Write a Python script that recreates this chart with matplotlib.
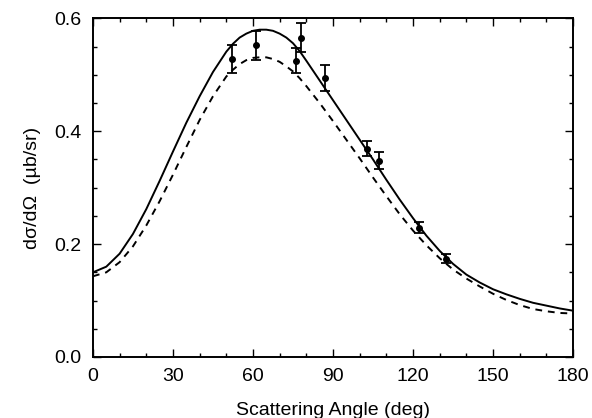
import numpy as np
import matplotlib
matplotlib.use("Agg")
import matplotlib.pyplot as plt
from matplotlib.ticker import MultipleLocator

# Measured data points
angle_data = [52.2, 61.2, 76.2, 78.0, 87.1, 102.9, 107.3, 122.3, 132.3]
xs_data = [0.528, 0.552, 0.525, 0.566, 0.495, 0.369, 0.348, 0.229, 0.174]
xs_err = [0.025, 0.026, 0.022, 0.026, 0.023, 0.013, 0.015, 0.010, 0.008]

# Curves
angle_curve = [0, 5, 10, 15, 20, 25, 30, 35, 40, 45, 50, 52.5, 55, 57.5, 60, 62.5, 65,
               67.5, 70, 72.5, 75, 77.5, 80, 85,
               90, 95, 100, 105, 110, 115, 120, 125, 130, 135, 140, 145, 150, 155,
               160, 165, 170, 175, 180]
solid_curve = [0.150, 0.160, 0.183, 0.218, 0.262, 0.312, 0.364, 0.415, 0.462, 0.505,
               0.541, 0.555, 0.566, 0.573, 0.578, 0.580, 0.580, 0.578, 0.573, 0.566,
               0.556, 0.542, 0.525, 0.490, 0.455, 0.420,
               0.385, 0.350, 0.314, 0.279, 0.246, 0.215, 0.188, 0.165, 0.146, 0.132,
               0.120, 0.111, 0.103, 0.096, 0.091, 0.086, 0.082]
dashed_curve = [0.143, 0.150, 0.168, 0.196, 0.233, 0.276, 0.323, 0.372, 0.420, 0.462,
                0.497, 0.509, 0.519, 0.526, 0.530, 0.531, 0.531, 0.528, 0.523, 0.515,
                0.506, 0.494, 0.480, 0.450, 0.418, 0.385,
                0.352, 0.318, 0.285, 0.253, 0.224, 0.198, 0.175, 0.155, 0.139, 0.125,
                0.112, 0.101, 0.092, 0.085, 0.081, 0.078, 0.077]

x_ticks = [0, 30, 60, 90, 120, 150, 180]
y_ticks = [0.0, 0.2, 0.4, 0.6]

plt.rcParams['font.family'] = ['Liberation Sans', 'DejaVu Sans']

fig = plt.figure(figsize=(5.92, 4.18), dpi=100)
ax = fig.add_axes([0.157, 0.146, 0.811, 0.810])

ax.plot(angle_curve, solid_curve, color='black', lw=1.4,
        solid_joinstyle='round', solid_capstyle='round')
ax.plot(angle_curve, dashed_curve, color='black', lw=1.4, dashes=(3.5, 3.0))
ax.errorbar(angle_data, xs_data, yerr=xs_err, fmt='o', color='black',
            ms=4, elinewidth=1.3, capsize=3.3, capthick=1.3)

ax.set_xlim(0, 180)
ax.set_ylim(0, 0.6)
ax.set_xticks(x_ticks)
ax.set_yticks(y_ticks)
ax.set_yticklabels([f"{v:.1f}" for v in y_ticks])
ax.xaxis.set_minor_locator(MultipleLocator(10))
ax.yaxis.set_minor_locator(MultipleLocator(0.05))
ax.tick_params(which='both', direction='in', top=True, right=True, width=1.0,
               labelsize=14, pad=8)
ax.tick_params(which='major', length=6)
ax.tick_params(which='minor', length=3)
for s in ax.spines.values():
    s.set_linewidth(1.4)

ax.set_xlabel("Scattering Angle (deg)", fontsize=14, labelpad=12)
ax.set_ylabel("dσ/dΩ  (µb/sr)", fontsize=14, labelpad=10)

fig.savefig("out.png", dpi=100)
